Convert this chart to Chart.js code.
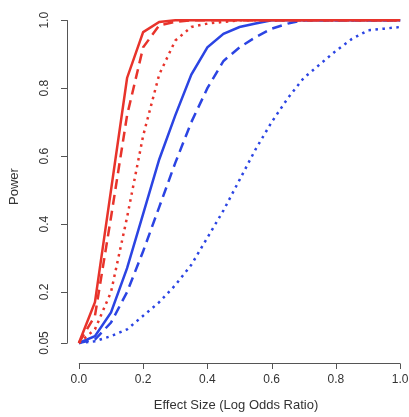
<!DOCTYPE html><html><head><script src="https://cdn.jsdelivr.net/npm/chart.js@4"></script>
<style>html,body{margin:0;padding:0;background:#fff}#w{width:409px;height:417px}</style></head><body><div id="w"><canvas id="c"></canvas></div>
<script>
const xs=[0,0.05,0.1,0.15,0.2,0.25,0.3,0.35,0.4,0.45,0.5,0.55,0.6,0.65,0.7,0.75,0.8,0.85,0.9,0.95,1.0];
const redSolid=[0.05,0.17,0.5,0.83,0.965,0.995,1,1,1,1,1,1,1,1,1,1,1,1,1,1,1];
const redDashed=[0.05,0.13,0.42,0.72,0.92,0.985,0.995,1,1,1,1,1,1,1,1,1,1,1,1,1,1];
const redDotted=[0.05,0.09,0.2,0.42,0.66,0.84,0.94,0.98,0.99,0.995,1,1,1,1,1,1,1,1,1,1,1];
const blueSolid=[0.05,0.07,0.14,0.27,0.43,0.59,0.72,0.84,0.92,0.96,0.98,0.99,1,1,1,1,1,1,1,1,1];
const blueDashed=[0.05,0.06,0.11,0.2,0.32,0.45,0.58,0.7,0.8,0.88,0.92,0.95,0.975,0.99,1,1,1,1,1,1,1];
const blueDotted=[0.05,0.055,0.07,0.09,0.13,0.17,0.22,0.28,0.36,0.44,0.53,0.62,0.7,0.77,0.83,0.87,0.91,0.945,0.97,0.975,0.98];
const yTicks=[0.05,0.2,0.4,0.6,0.8,1.0];
const xTicks=[0,0.2,0.4,0.6,0.8,1.0];
const RED='#e8332b',BLUE='#2b44e3';
function ds(d,c,dash){return{data:d.map((v,i)=>({x:xs[i],y:v})),borderColor:c,borderWidth:2.5,borderDash:dash,pointRadius:0,tension:0,fill:false};}
const F='12px "Liberation Sans", Arial, sans-serif';
const labels={id:'lab',afterDraw(ch){const g=ch.ctx,ys=ch.scales.y,xsc=ch.scales.x;g.save();g.fillStyle='#333';g.font=F;g.textAlign='center';g.textBaseline='middle';
yTicks.forEach(t=>{g.save();g.translate(45,ys.getPixelForValue(t));g.rotate(-Math.PI/2);g.fillText(t===1?'1.0':String(t),0,0);g.restore();});
g.save();g.translate(14,(ys.top+ys.bottom)/2);g.rotate(-Math.PI/2);g.font='13px "Liberation Sans", Arial, sans-serif';g.fillText('Power',0,0);g.restore();
xTicks.forEach(t=>g.fillText(t.toFixed(1),xsc.getPixelForValue(t),380));
g.font='13px "Liberation Sans", Arial, sans-serif';g.fillText('Effect Size (Log Odds Ratio)',(xsc.left+xsc.right)/2,405);
g.strokeStyle='#555';g.lineWidth=1;g.beginPath();
g.moveTo(67.5,ys.getPixelForValue(0.05));g.lineTo(67.5,ys.getPixelForValue(1));
yTicks.forEach(t=>{const p=Math.round(ys.getPixelForValue(t))+0.5;g.moveTo(61,p);g.lineTo(67.5,p);});
const b=363.5;g.moveTo(xsc.getPixelForValue(0),b);g.lineTo(xsc.getPixelForValue(1),b);
xTicks.forEach(t=>{const p=Math.round(xsc.getPixelForValue(t))+0.5;g.moveTo(p,b);g.lineTo(p,369);});
g.stroke();g.restore();}};
new Chart(document.getElementById('c'),{type:'line',data:{datasets:[ds(redSolid,RED,[]),ds(redDashed,RED,[10,6]),ds(redDotted,RED,[2.5,4.5]),ds(blueSolid,BLUE,[]),ds(blueDashed,BLUE,[10,6]),ds(blueDotted,BLUE,[2.5,4.5])]},
options:{responsive:true,maintainAspectRatio:false,animation:false,layout:{padding:{top:10,right:4,left:0,bottom:0}},plugins:{legend:{display:false},tooltip:{enabled:false}},
scales:{x:{type:'linear',min:-0.037,max:1.015,grid:{display:false},border:{display:false},ticks:{display:false},afterFit(s){s.height=54;}},
y:{min:-0.009,max:1.03,grid:{display:false},border:{display:false},ticks:{display:false},afterFit(s){s.width=67;}}}},plugins:[labels]});
</script></body></html>
